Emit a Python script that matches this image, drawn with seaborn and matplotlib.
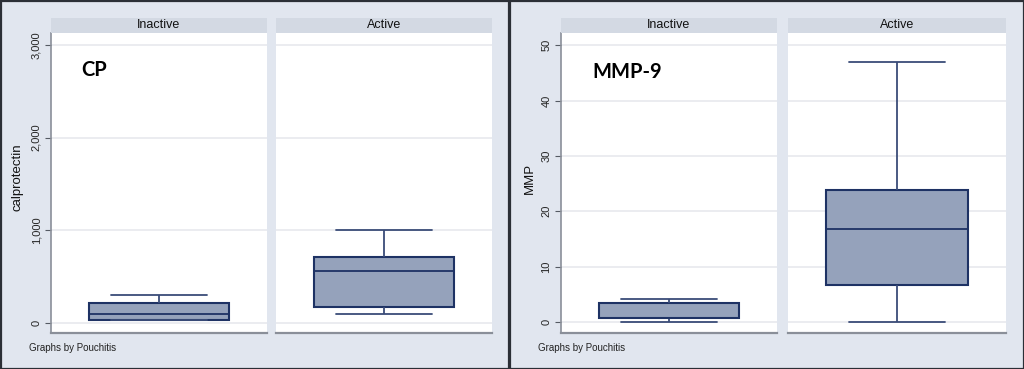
import numpy as np
import pandas as pd
import matplotlib
matplotlib.use("Agg")
import matplotlib.pyplot as plt
import seaborn as sns
from matplotlib.patches import Rectangle

# ---- data (five-number summaries) ----
groups = ["Inactive", "Active"]
cp_inactive = [30, 32, 100, 216, 302]
cp_active = [97, 176, 564, 712, 1000]
mmp_inactive = [0.0, 0.7, 0.8, 3.4, 4.15]
mmp_active = [0.0, 6.6, 16.7, 23.8, 46.9]
cp_ticks = [0, 1000, 2000, 3000]
cp_tick_labels = ["0", "1,000", "2,000", "3,000"]
mmp_ticks = [0, 10, 20, 30, 40, 50]
mmp_tick_labels = ["0", "10", "20", "30", "40", "50"]

cp_df = pd.DataFrame({"Pouchitis": ["Inactive"] * len(cp_inactive) + ["Active"] * len(cp_active),
                      "calprotectin": cp_inactive + cp_active})
mmp_df = pd.DataFrame({"Pouchitis": ["Inactive"] * len(mmp_inactive) + ["Active"] * len(mmp_active),
                       "MMP": mmp_inactive + mmp_active})

sns.set_style("white")
plt.rcParams["font.family"] = ["Liberation Sans", "DejaVu Sans"]

W, H = 1024, 369
BG = "#e1e6ef"
STRIP = "#d3d9e3"
FILL = "#95a2bb"
EDGE = "#1e3264"
WHISK = "#3a4c78"
GRID = "#e9ebef"
AXC = "#8a8f99"

fig = plt.figure(figsize=(W / 100, H / 100), dpi=100)
fig.patch.set_facecolor(BG)


def rect_px(x0, y0, x1, y1):
    return [x0 / W, 1 - y1 / H, (x1 - x0) / W, (y1 - y0) / H]


# panel frames
for (x0, x1) in [(0.5, 509), (510, 1023.5)]:
    fig.add_artist(Rectangle((x0 / W, 0.5 / H), (x1 - x0) / W, (H - 1.5) / H,
                             transform=fig.transFigure, facecolor=BG,
                             edgecolor="#2b2f36", lw=1.6, zorder=-5))

BOX_W = 0.65
CAP_W = 0.68 * BOX_W


def facet(df, col, group, px, ylim, ticks, labels, first):
    x0, x1 = px
    ax = fig.add_axes(rect_px(x0, 33, x1, 333))
    sub = df[df["Pouchitis"] == group]
    sns.boxplot(data=sub, x="Pouchitis", y=col, ax=ax, width=BOX_W, whis=np.inf,
                color=FILL, saturation=1, linecolor=EDGE, linewidth=1.5,
                whiskerprops=dict(color=WHISK, lw=1.3),
                capprops=dict(color=WHISK, lw=1.3),
                medianprops=dict(color=EDGE, lw=1.3))
    # adjust cap widths (Stata style)
    for ln in ax.lines:
        xd = np.asarray(ln.get_xdata(), float)
        yd = np.asarray(ln.get_ydata(), float)
        if len(xd) == 2 and yd[0] == yd[1] and (xd[1] - xd[0]) < BOX_W * 0.95:
            c = xd.mean()
            ln.set_xdata([c - CAP_W / 2, c + CAP_W / 2])
    ax.set_xlim(-0.5, 0.5)
    ax.set_ylim(*ylim)
    ax.set_facecolor("white")
    ax.set_yticks(ticks)
    ax.yaxis.grid(True, color=GRID, lw=1.3)
    ax.set_axisbelow(True)
    ax.set_xticks([])
    ax.set_xlabel("")
    ax.set_ylabel("")
    for s in ["top", "right"]:
        ax.spines[s].set_visible(False)
    ax.spines["bottom"].set_color(AXC)
    ax.spines["bottom"].set_linewidth(1.6)
    if first:
        ax.spines["left"].set_color(AXC)
        ax.spines["left"].set_linewidth(1.2)
        ax.set_yticklabels(labels)
        ax.tick_params(axis="y", length=4, width=0.8, color="#555a63",
                       labelsize=8, pad=3, left=True)
        for lbl in ax.get_yticklabels():
            lbl.set_rotation(90)
            lbl.set_va("center")
    else:
        ax.spines["left"].set_visible(False)
        ax.tick_params(axis="y", length=0, labelleft=False)
    # strip
    sax = fig.add_axes(rect_px(x0, 18, x1, 33))
    sax.set_facecolor(STRIP)
    for s in sax.spines.values():
        s.set_visible(False)
    sax.set_xticks([])
    sax.set_yticks([])
    sax.text(0.5, 0.5, group, ha="center", va="center", fontsize=9, color="#111111",
             transform=sax.transAxes)
    return ax


facet(cp_df, "calprotectin", groups[0], (51, 267), (-108, 3128), cp_ticks, cp_tick_labels, True)
facet(cp_df, "calprotectin", groups[1], (276, 492), (-108, 3128), cp_ticks, cp_tick_labels, False)
facet(mmp_df, "MMP", groups[0], (561, 777), (-2.0, 52.2), mmp_ticks, mmp_tick_labels, True)
facet(mmp_df, "MMP", groups[1], (788, 1006), (-2.0, 52.2), mmp_ticks, mmp_tick_labels, False)

# axis titles
fig.text(18 / W, 1 - 177 / H, "calprotectin", rotation=90, ha="center", va="center",
         fontsize=9.5, color="#111111")
fig.text(530 / W, 1 - 178 / H, "MMP", rotation=90, ha="center", va="center",
         fontsize=9.5, color="#111111")

# notes
fig.text(29 / W, 1 - 348 / H, "Graphs by Pouchitis", ha="left", va="center",
         fontsize=7, color="#222222")
fig.text(538 / W, 1 - 348 / H, "Graphs by Pouchitis", ha="left", va="center",
         fontsize=7, color="#222222")

# panel titles
fig.text(81 / W, 1 - 70 / H, "CP", ha="left", va="center", fontsize=14.5,
         fontweight="bold", family=["Lato", "DejaVu Sans"], color="black")
fig.text(592 / W, 1 - 72 / H, "MMP-9", ha="left", va="center", fontsize=14.5,
         fontweight="bold", family=["Lato", "DejaVu Sans"], color="black")

fig.savefig("out.png", dpi=100, facecolor=BG)
